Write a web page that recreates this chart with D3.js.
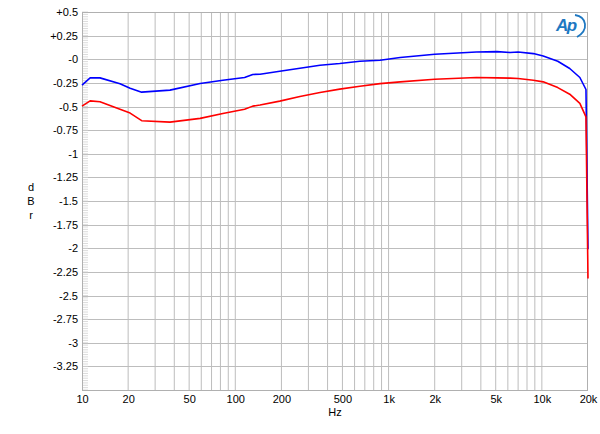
<!DOCTYPE html>
<html>
<head>
<meta charset="utf-8">
<script src="https://cdn.jsdelivr.net/npm/d3@7"></script>
<style>
  body { margin: 0; background: #fff; }
  svg { font-family: "Liberation Sans", Arial, sans-serif; }
</style>
</head>
<body>
<div id="chart"></div>
<script>
const width = 600;
const height = 434;
const margin = { top: 12, right: 12, bottom: 44, left: 82 };

// frequency response, two channels (Hz, dBr)
const freqs = [10, 11.3, 13.1, 17.7, 20.6, 24.5, 37.5, 59, 83, 115, 130, 145, 195, 264, 357, 480, 650, 880, 1190, 2000, 3740, 5100, 6200, 7000, 8800, 10200, 12700, 15200, 17700, 19400, 20000];
const blue = [-0.274, -0.197, -0.197, -0.26, -0.306, -0.348, -0.327, -0.256, -0.222, -0.193, -0.161, -0.158, -0.127, -0.095, -0.063, -0.045, -0.021, -0.01, 0.018, 0.053, 0.077, 0.081, 0.071, 0.077, 0.06, 0.035, -0.021, -0.098, -0.193, -0.32, -2.01];
const red = [-0.496, -0.44, -0.45, -0.53, -0.57, -0.65, -0.665, -0.626, -0.575, -0.53, -0.496, -0.485, -0.443, -0.394, -0.352, -0.316, -0.285, -0.258, -0.239, -0.211, -0.193, -0.197, -0.2, -0.204, -0.222, -0.239, -0.3, -0.37, -0.467, -0.61, -2.32];

const xTicks = [10, 20, 50, 100, 200, 500, 1000, 2000, 5000, 10000, 20000];
const xTickLabels = ["10", "20", "50", "100", "200", "500", "1k", "2k", "5k", "10k", "20k"];
const yTicks = [0.5, 0.25, 0, -0.25, -0.5, -0.75, -1, -1.25, -1.5, -1.75, -2, -2.25, -2.5, -2.75, -3, -3.25];
const yTickLabels = ["+0.5", "+0.25", "-0", "-0.25", "-0.5", "-0.75", "-1", "-1.25", "-1.5", "-1.75", "-2", "-2.25", "-2.5", "-2.75", "-3", "-3.25"];

const x = d3.scaleLog().domain([10, 20000]).range([margin.left, width - margin.right]);
const y = d3.scaleLinear().domain([-3.5, 0.5]).range([height - margin.bottom, margin.top]);

let svg = d3.select("#chart").append("svg")
  .attr("width", width)
  .attr("height", height);

// vertical grid: 10, 20, ... 90, 100, 200, ...
let xGrid = [];
for (let dec = 10; dec <= 10000; dec *= 10) {
  for (let m = 1; m <= 9; m++) {
    let f = dec * m;
    if (f > 10 && f < 20000) xGrid.push(f);
  }
}

svg.append("g")
  .selectAll("line")
  .data(xGrid)
  .join("line")
  .attr("x1", d => x(d)).attr("x2", d => x(d))
  .attr("y1", y.range()[1]).attr("y2", y.range()[0])
  .attr("stroke", "#bdbdbd")
  .attr("stroke-width", 1);

svg.append("g")
  .selectAll("line")
  .data(yTicks.filter(d => d < 0.5))
  .join("line")
  .attr("x1", x.range()[0]).attr("x2", x.range()[1])
  .attr("y1", d => Math.round(y(d)) + 0.5).attr("y2", d => Math.round(y(d)) + 0.5)
  .attr("stroke", "#bdbdbd")
  .attr("stroke-width", 1);

// minor ruler ticks on the left edge
let minor = d3.range(-3.5, 0.5001, 0.025);
svg.append("g")
  .selectAll("line")
  .data(minor)
  .join("line")
  .attr("x1", x.range()[0]).attr("x2", x.range()[0] + 6)
  .attr("y1", d => y(d)).attr("y2", d => y(d))
  .attr("stroke", "#d2d2d2")
  .attr("stroke-width", 0.8);

// frame
svg.append("rect")
  .attr("x", x.range()[0] + 0.5)
  .attr("y", y.range()[1] + 0.5)
  .attr("width", x.range()[1] - x.range()[0] - 1)
  .attr("height", y.range()[0] - y.range()[1])
  .attr("fill", "none")
  .attr("stroke", "#b0b0b0")
  .attr("stroke-width", 1);

// axes labels
let yAxis = d3.axisLeft(y)
  .tickValues(yTicks)
  .tickFormat((d, i) => yTickLabels[i])
  .tickSize(0)
  .tickPadding(4);
svg.append("g")
  .attr("transform", `translate(${x.range()[0]},0)`)
  .call(yAxis)
  .call(g => g.select(".domain").remove())
  .selectAll("text")
  .attr("font-size", 11)
  .attr("font-family", "Liberation Sans, Arial, sans-serif")
  .attr("fill", "#000");

let xAxis = d3.axisBottom(x)
  .tickValues(xTicks)
  .tickFormat((d, i) => xTickLabels[i])
  .tickSize(0)
  .tickPadding(5);
svg.append("g")
  .attr("transform", `translate(0,${y.range()[0]})`)
  .call(xAxis)
  .call(g => g.select(".domain").remove())
  .selectAll("text")
  .attr("font-size", 11)
  .attr("font-family", "Liberation Sans, Arial, sans-serif")
  .attr("fill", "#000");

svg.append("text")
  .attr("x", (x.range()[0] + x.range()[1]) / 2)
  .attr("y", 416)
  .attr("text-anchor", "middle")
  .attr("font-size", 11)
  .text("Hz");

["d", "B", "r"].forEach((c, i) => {
  svg.append("text")
    .attr("x", 31)
    .attr("y", 191 + i * 14)
    .attr("text-anchor", "middle")
    .attr("font-size", 11)
    .text(c);
});

// curves
let line = d3.line()
  .x(d => x(d[0]))
  .y(d => y(d[1]));

[[blue, "#0000ff"], [red, "#ff0000"]].forEach(([vals, col]) => {
  svg.append("path")
    .datum(freqs.map((f, i) => [f, vals[i]]))
    .attr("d", line)
    .attr("fill", "none")
    .attr("stroke", col)
    .attr("stroke-width", 1.6)
    .attr("stroke-linejoin", "round");
});

// Ap logo
let logo = svg.append("g").attr("transform", "translate(556,16)");
logo.append("text")
  .attr("x", 0)
  .attr("y", 15)
  .attr("font-size", 17)
  .attr("font-style", "italic")
  .attr("font-weight", "bold")
  .attr("fill", "#1e78c2")
  .attr("letter-spacing", -1.5)
  .text("Ap");
logo.append("path")
  .attr("d", "M19,-1 C31,1 33,14 21,21")
  .attr("fill", "none")
  .attr("stroke", "#1e78c2")
  .attr("stroke-width", 1.8);
</script>
</body>
</html>
